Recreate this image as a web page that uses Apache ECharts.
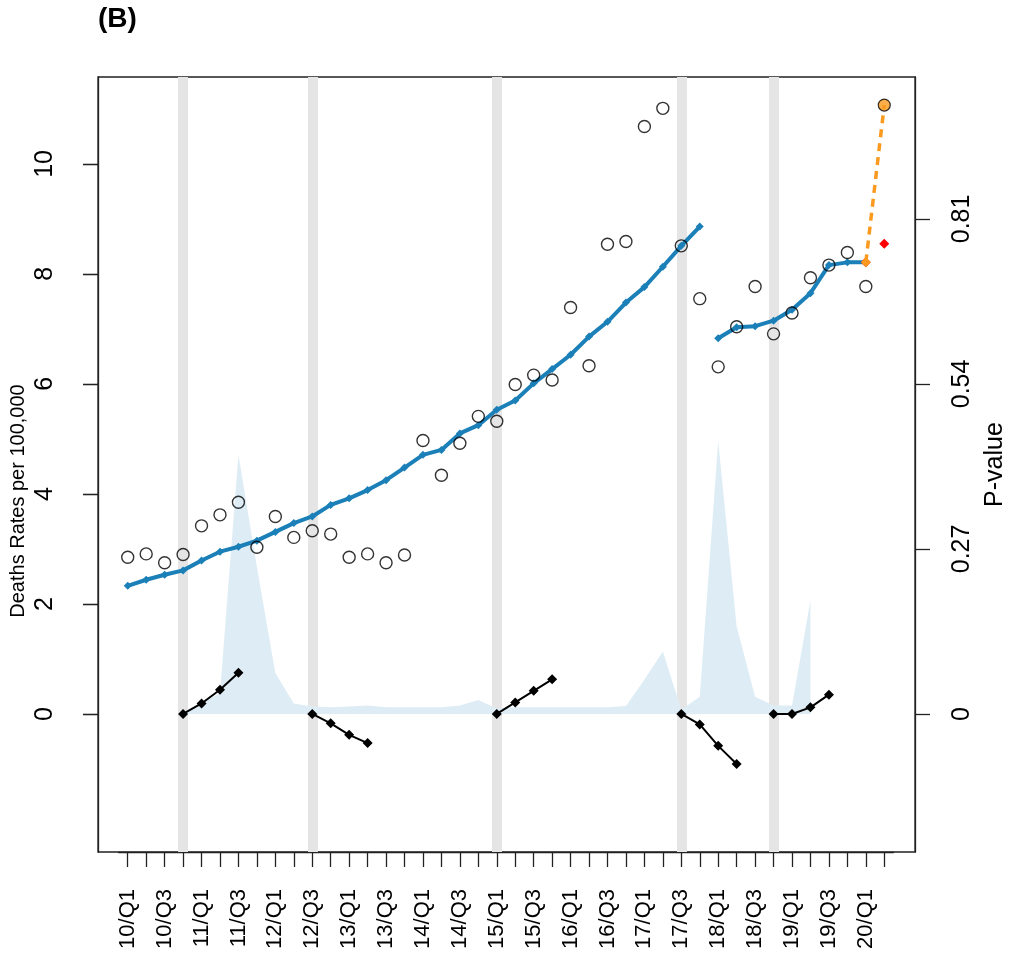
<!DOCTYPE html>
<html>
<head>
<meta charset="utf-8">
<script src="https://cdn.jsdelivr.net/npm/echarts@6/dist/echarts.min.js"></script>
<style>
html, body { margin: 0; padding: 0; background: #fff; }
#chart { width: 1012px; height: 957px; }
</style>
</head>
<body>
<div id="chart"></div>
<script>
// quarters 2010 Q1 .. 2020 Q2
var quarters = ["10/Q1", "10/Q2", "10/Q3", "10/Q4", "11/Q1", "11/Q2", "11/Q3", "11/Q4",
    "12/Q1", "12/Q2", "12/Q3", "12/Q4", "13/Q1", "13/Q2", "13/Q3", "13/Q4",
    "14/Q1", "14/Q2", "14/Q3", "14/Q4", "15/Q1", "15/Q2", "15/Q3", "15/Q4",
    "16/Q1", "16/Q2", "16/Q3", "16/Q4", "17/Q1", "17/Q2", "17/Q3", "17/Q4",
    "18/Q1", "18/Q2", "18/Q3", "18/Q4", "19/Q1", "19/Q2", "19/Q3", "19/Q4",
    "20/Q1", "20/Q2"];

// observed death rates, 10/Q1 .. 20/Q1
var observed = [2.85, 2.91, 2.75, 2.90, 3.42, 3.62, 3.85, 3.03, 3.59, 3.21, 3.33, 3.27,
    2.85, 2.91, 2.75, 2.89, 4.97, 4.34, 4.92, 5.41, 5.32, 5.99, 6.16, 6.07,
    7.39, 6.33, 8.54, 8.59, 10.68, 11.01, 8.51, 7.55, 6.31, 7.04, 7.77, 6.91,
    7.29, 7.93, 8.16, 8.39, 7.77];
var observed2020Q2 = 11.07;

// joinpoint fitted lines
var fitted1 = [2.33, 2.44, 2.53, 2.61, 2.79, 2.95, 3.04, 3.15, 3.31, 3.47, 3.59, 3.80,
    3.92, 4.07, 4.25, 4.48, 4.71, 4.80, 5.10, 5.25, 5.53, 5.70, 6.01, 6.27,
    6.53, 6.86, 7.13, 7.48, 7.76, 8.13, 8.51, 8.86];
var fitted2 = [6.83, 7.03, 7.05, 7.15, 7.35, 7.65, 8.16, 8.21, 8.21];
var fitted2Start = 32;

// 20/Q1 -> 20/Q2
var excessLine = [8.21, 11.07];
var projectedLine = [8.21, 8.55];

// p-values, 10/Q4 .. 19/Q2
var pValues = [0.002, 0.018, 0.034, 0.424, 0.241, 0.067, 0.017, 0.012, 0.011, 0.012,
    0.014, 0.011, 0.011, 0.011, 0.011, 0.014, 0.023, 0.009, 0.011, 0.011,
    0.011, 0.011, 0.011, 0.011, 0.013, 0.056, 0.102, 0.007, 0.028, 0.447,
    0.143, 0.028, 0.014, 0.014, 0.186];
var pStart = 3;

// short segments after each joinpoint
var segStarts = [3, 10, 20, 30, 35];
var segValues = [
    [0, 0.19, 0.44, 0.75],
    [0, -0.17, -0.38, -0.53],
    [0, 0.21, 0.42, 0.63],
    [0, -0.19, -0.58, -0.91],
    [0, 0, 0.12, 0.35]
];

var joinPoints = ["10/Q4", "12/Q3", "15/Q1", "17/Q3", "18/Q4"];
var leftTicks = [0, 2, 4, 6, 8, 10];
var rightTicks = [0, 0.27, 0.54, 0.81];
var rateRange = [-2.51, 11.58];
var pRange = [-0.2259, 1.0422];

function pad(values, start) {
    var out = [];
    for (var i = 0; i < quarters.length; i++) {
        var k = i - start;
        out.push(k >= 0 && k < values.length ? values[k] : null);
    }
    return out;
}

var font = "Liberation Sans, Arial, sans-serif";
var blue = "#1b7fb8";
var orange = "#fb9a1e";
var axisColor = "#222";

var series = [{
    type: "line",
    data: pad([], 0),
    silent: true,
    z: 1,
    markLine: {
        silent: true,
        z: 1,
        symbol: ["none", "none"],
        label: { show: false },
        lineStyle: { color: "#e5e5e5", width: 10, type: "solid", opacity: 1 },
        emphasis: { disabled: true },
        data: joinPoints.map(function (q) { return { xAxis: q }; })
    }
}, {
    name: "P-value",
    type: "line",
    yAxisIndex: 1,
    data: pad(pValues, pStart),
    symbol: "none",
    lineStyle: { width: 0 },
    areaStyle: { color: "#deedf5", opacity: 1 },
    z: 2
}];

segValues.forEach(function (vals, i) {
    series.push({
        type: "line",
        data: pad(vals, segStarts[i]),
        symbol: "diamond",
        symbolSize: 10,
        lineStyle: { color: "#000", width: 2 },
        itemStyle: { color: "#000" },
        z: 3
    });
});

[[fitted1, 0], [fitted2, fitted2Start]].forEach(function (f) {
    series.push({
        type: "line",
        data: pad(f[0], f[1]),
        symbol: "diamond",
        symbolSize: 8,
        lineStyle: { color: blue, width: 4 },
        itemStyle: { color: blue },
        z: 4
    });
});

series.push({
    type: "line",
    data: pad(projectedLine, 40),
    symbol: "diamond",
    symbolSize: 10,
    lineStyle: { width: 0 },
    itemStyle: { color: "#ff0000" },
    z: 5
}, {
    type: "line",
    data: pad(excessLine, 40).map(function (v, i) {
        return i === 40 ? { value: v, symbol: "diamond", symbolSize: 10 } : v;
    }),
    symbol: "none",
    lineStyle: { color: orange, width: 3.5, type: [8, 6] },
    itemStyle: { color: orange },
    z: 6
}, {
    type: "scatter",
    data: pad(observed, 0),
    symbol: "circle",
    symbolSize: 12,
    itemStyle: { color: "rgba(255,255,255,0)", borderColor: "#000", borderWidth: 1.4 },
    z: 7
}, {
    type: "scatter",
    data: pad([observed2020Q2], 41),
    symbol: "circle",
    symbolSize: 12,
    itemStyle: { color: orange, borderColor: "#000", borderWidth: 1.2 },
    z: 8
});

var chart = echarts.init(document.getElementById("chart"));
chart.setOption({
    animation: false,
    backgroundColor: "#fff",
    textStyle: { fontFamily: font },
    title: {
        text: "(B)",
        left: 93,
        top: 0,
        textStyle: { fontSize: 28, fontWeight: "bold", color: "#000", fontFamily: font }
    },
    graphic: [{
        type: "text",
        x: 18,
        y: 501,
        rotation: Math.PI / 2,
        silent: true,
        style: {
            text: "Deaths Rates per 100,000",
            fill: "#000",
            font: "20px " + font,
            textAlign: "center",
            textVerticalAlign: "middle"
        }
    }],
    grid: [{
        left: 118.5, right: 118.5, top: 77, height: 775,
        outerBoundsMode: "none"
    }, {
        left: 98, top: 77, width: 817, height: 775,
        show: true, borderColor: axisColor, borderWidth: 1.3,
        backgroundColor: "rgba(0,0,0,0)",
        outerBoundsMode: "none"
    }, {
        // thin strip left of the frame, carries the outward left ticks
        left: 60, top: 77, width: 23, height: 775,
        outerBoundsMode: "none"
    }],
    xAxis: [{
        type: "category",
        data: quarters,
        position: "bottom",
        boundaryGap: true,
        axisLine: { show: true, onZero: false, lineStyle: { color: axisColor, width: 1.3 } },
        splitLine: { show: false },
        axisTick: { show: true, alignWithLabel: true, interval: 0, length: 15, lineStyle: { color: axisColor, width: 1.3 } },
        axisLabel: { interval: 1, rotate: 90, margin: 37, fontSize: 22, color: "#000", fontFamily: font }
    }, {
        gridIndex: 1, type: "value", show: false
    }, {
        gridIndex: 2, type: "value", show: false
    }],
    yAxis: [{
        type: "value",
        min: rateRange[0],
        max: rateRange[1],
        position: "left",
        show: false
    }, {
        type: "value",
        min: pRange[0],
        max: pRange[1],
        position: "right",
        offset: 21.5,
        name: "P-value",
        nameLocation: "middle",
        nameGap: 67,
        nameTextStyle: { fontSize: 25, color: "#000", fontFamily: font },
        axisLine: { show: true, onZero: false, lineStyle: { color: axisColor, width: 1.3 } },
        splitLine: { show: false },
        axisTick: { show: true, customValues: rightTicks, length: 15, lineStyle: { color: axisColor, width: 1.3 } },
        axisLabel: { show: true, customValues: rightTicks, rotate: 90, margin: 35, fontSize: 25, color: "#000", fontFamily: font }
    }, {
        gridIndex: 1,
        type: "value",
        min: rateRange[0],
        max: rateRange[1],
        position: "left",
        axisLine: { show: true, onZero: false, lineStyle: { color: axisColor, width: 1.3 } },
        splitLine: { show: false },
        axisTick: { show: true, customValues: leftTicks, length: 15, lineStyle: { color: axisColor, width: 1.3 } },
        axisLabel: { show: true, customValues: leftTicks, rotate: 90, margin: 40, fontSize: 25, color: "#000", fontFamily: font }
    }, {
        gridIndex: 2,
        type: "value",
        min: rateRange[0],
        max: rateRange[1],
        position: "right",
        axisLine: { show: true, onZero: false, lineStyle: { color: "rgba(0,0,0,0)" } },
        splitLine: { show: false },
        axisTick: { show: true, customValues: leftTicks, length: 15, lineStyle: { color: axisColor, width: 1.3 } },
        axisLabel: { show: false }
    }],
    series: series
});
window.addEventListener("resize", chart.resize);
</script>
</body>
</html>
